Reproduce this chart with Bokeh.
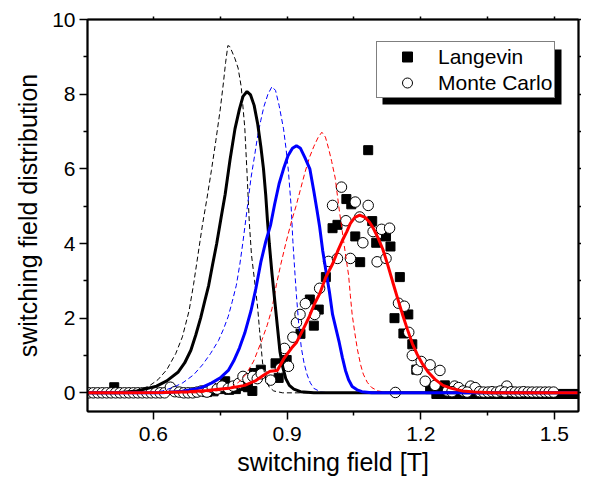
from bokeh.plotting import figure
from bokeh.models import (Range1d, FixedTicker, LinearAxis, Legend, LegendItem,
                          BoxAnnotation)
from bokeh.embed import file_html
from bokeh.resources import INLINE

# ---------------- data ----------------
# Langevin (filled squares)
lang_x = [0.512, 0.720, 0.735, 0.750, 0.761, 0.770, 0.785, 0.800, 0.812, 0.822,
          0.826, 0.841, 0.874, 0.881, 0.899, 0.930, 0.951, 0.960, 0.971, 0.987,
          1.002, 1.013, 1.033, 1.044, 1.053, 1.064, 1.082, 1.091, 1.100, 1.122,
          1.132, 1.153, 1.141, 1.161, 1.172, 1.181, 1.190, 1.221, 1.225, 1.243,
          1.254,
          1.235, 1.245, 1.255, 1.265, 1.275, 1.285, 1.295, 1.305, 1.315, 1.325,
          1.335, 1.345, 1.355, 1.365, 1.375, 1.385, 1.395, 1.405, 1.415, 1.425,
          1.435, 1.445, 1.455, 1.465, 1.475, 1.485, 1.495, 1.505, 1.515, 1.525,
          1.535, 1.545, 1.553]
lang_y = [0.15, 0.02, 0.04, 0.10, 0.31, 0.08, 0.10, 0.18, 0.15, 0.05,
          0.53, 0.62, 0.79, 0.40, 0.88, 1.58, 2.50, 1.80, 2.23, 3.10,
          4.41, 4.50, 5.19, 5.05, 4.19, 3.50, 6.50, 4.60, 4.02, 4.19,
          3.92, 3.10, 2.00, 1.59, 2.10, 1.30, 0.62, 0.10, 0.14, 0.05,
          0.20,
          -0.03, -0.03, -0.03, -0.03, -0.03, -0.03, -0.03, -0.03, -0.03, -0.03,
          -0.03, -0.03, -0.03, -0.03, -0.03, -0.03, -0.03, -0.03, -0.03, -0.03,
          -0.03, -0.03, -0.03, -0.03, -0.03, -0.03, -0.03, -0.03, -0.03, -0.03,
          -0.03, -0.03, -0.03]

# Monte Carlo (open circles)
mc_x = [0.455, 0.465, 0.475, 0.485, 0.495, 0.505, 0.515, 0.525, 0.535, 0.545,
        0.555, 0.565, 0.575, 0.585, 0.595, 0.605, 0.615, 0.625, 0.638, 0.648,
        0.658, 0.668, 0.678, 0.688, 0.698, 0.708, 0.720, 0.732, 0.743, 0.754,
        0.768, 0.779, 0.791, 0.801, 0.812, 0.823, 0.833, 0.842, 0.863, 0.885,
        0.894, 0.903, 0.913, 0.921, 0.929, 0.941, 0.962, 0.973, 0.993, 1.002,
        1.013, 1.022, 1.032, 1.042, 1.053, 1.063, 1.070, 1.082, 1.093, 1.102,
        1.112, 1.122, 1.130, 1.143, 1.150, 1.163, 1.173, 1.181, 1.192, 1.201,
        1.210, 1.221, 1.243, 1.232, 1.276, 1.285, 1.312, 1.322, 1.393,
        1.260, 1.270, 1.295, 1.304, 1.332, 1.341, 1.351, 1.360, 1.370, 1.379,
        1.389, 1.403, 1.412, 1.422, 1.431, 1.441, 1.450, 1.460, 1.469, 1.479,
        1.488, 1.498]
mc_y = [0.0, 0.0, 0.0, 0.0, 0.0, 0.0, 0.0, 0.0, 0.0, 0.0,
        0.0, 0.0, 0.0, 0.0, 0.0, 0.0, 0.0, 0.0, 0.15, 0.03,
        0.02, 0.0, 0.0, 0.0, 0.02, 0.05, 0.02, 0.14, 0.10, 0.18,
        0.12, 0.18, 0.25, 0.44, 0.38, 0.44, 0.38, 0.51, 0.34, 0.66,
        1.19, 0.71, 1.49, 1.88, 2.10, 2.39, 2.10, 2.80, 3.52, 5.02,
        3.60, 5.51, 4.61, 3.60, 5.11, 4.71, 4.02, 5.02, 4.32, 3.51,
        4.38, 3.60, 4.41, 0.01, 2.40, 2.32, 1.62, 1.00, 0.62, 0.84,
        0.31, 0.75, 0.60, 0.20, 0.18, 0.14, 0.18, 0.14, 0.18,
        0.05, 0.03, 0.05, 0.02, 0.03, 0.02, 0.02, 0.03, 0.02, 0.05,
        0.02, 0.03, 0.02, 0.02, 0.03, 0.02, 0.02, 0.02, 0.02, 0.02,
        0.02, 0.02]

# curves
bd_x = [0.452, 0.530, 0.560, 0.590, 0.610, 0.630, 0.650, 0.665, 0.680, 0.690,
        0.700, 0.710, 0.720, 0.730, 0.740, 0.750, 0.757, 0.762, 0.767, 0.771,
        0.776, 0.783, 0.790, 0.797, 0.805, 0.810, 0.815, 0.820, 0.827, 0.834,
        0.838, 0.845, 0.852, 0.860, 0.870, 0.890, 1.554]
bd_y = [0.0, 0.0, 0.05, 0.18, 0.35, 0.62, 1.05, 1.50, 2.20, 2.90,
        3.70, 4.50, 5.20, 5.95, 6.75, 7.60, 8.30, 8.85, 9.30, 9.28,
        9.15, 8.95, 8.70, 8.20, 7.10, 5.90, 4.60, 3.70, 3.00, 2.27,
        1.70, 0.80, 0.36, 0.15, 0.05, 0.0, 0.0]

bs_x = [0.452, 0.520, 0.563, 0.607, 0.630, 0.655, 0.670, 0.684, 0.695, 0.706,
        0.715, 0.724, 0.733, 0.742, 0.752, 0.761, 0.772, 0.783, 0.793, 0.801,
        0.810, 0.818, 0.826, 0.834, 0.841, 0.847, 0.852, 0.856, 0.860, 0.866,
        0.872, 0.878, 0.884, 0.890, 0.897, 0.905, 0.915, 0.930, 0.960, 1.554]
bs_y = [0.0, 0.0, 0.05, 0.18, 0.32, 0.55, 0.80, 1.14, 1.55, 2.01,
        2.45, 2.88, 3.45, 4.00, 4.70, 5.32, 6.25, 7.07, 7.60, 7.94,
        8.07, 7.98, 7.70, 7.20, 6.60, 6.00, 5.30, 4.60, 4.00, 3.20,
        2.50, 1.80, 1.10, 0.70, 0.38, 0.20, 0.10, 0.03, 0.0, 0.0]

bld_x = [0.452, 0.580, 0.620, 0.645, 0.666, 0.690, 0.710, 0.728, 0.746, 0.757,
         0.768, 0.777, 0.786, 0.794, 0.801, 0.810, 0.819, 0.827, 0.834, 0.841,
         0.848, 0.857, 0.866, 0.874, 0.882, 0.892, 0.898, 0.903, 0.909, 0.913,
         0.917, 0.921, 0.926, 0.932, 0.938, 0.945, 0.952, 0.960, 0.976, 1.000,
         1.554]
bld_y = [0.0, 0.0, 0.05, 0.15, 0.27, 0.48, 0.75, 1.05, 1.40, 1.70,
         2.05, 2.45, 2.88, 3.45, 4.05, 4.90, 5.76, 6.35, 6.89, 7.30,
         7.67, 8.00, 8.20, 8.10, 7.70, 7.07, 6.50, 5.93, 5.00, 4.05,
         3.30, 2.60, 1.85, 1.20, 0.80, 0.48, 0.27, 0.12, 0.02, 0.0,
         0.0]

bls_x = [0.452, 0.620, 0.665, 0.694, 0.710, 0.730, 0.750, 0.768, 0.780, 0.793,
         0.805, 0.819, 0.830, 0.841, 0.852, 0.863, 0.872, 0.882, 0.892, 0.902,
         0.912, 0.921, 0.930, 0.940, 0.951, 0.960, 0.967, 0.973, 0.980, 0.988,
         0.995, 1.002, 1.010, 1.017, 1.024, 1.031, 1.038, 1.046, 1.057, 1.068,
         1.090, 1.554]
bls_y = [0.0, 0.0, 0.04, 0.10, 0.15, 0.26, 0.40, 0.60, 0.85, 1.20,
         1.60, 2.20, 2.80, 3.50, 4.05, 4.50, 5.05, 5.60, 6.00, 6.35,
         6.55, 6.62, 6.55, 6.30, 6.00, 5.40, 4.90, 4.45, 3.80, 3.20,
         2.70, 2.10, 1.70, 1.35, 0.95, 0.60, 0.35, 0.17, 0.08, 0.03,
         0.0, 0.0]

rd_x = [0.452, 0.700, 0.740, 0.768, 0.790, 0.808, 0.825, 0.843, 0.855, 0.866,
        0.876, 0.886, 0.898, 0.910, 0.920, 0.930, 0.940, 0.950, 0.960, 0.970,
        0.978, 0.986, 0.993, 1.000, 1.008, 1.017, 1.027, 1.033, 1.038, 1.042,
        1.046, 1.052, 1.058, 1.065, 1.071, 1.080, 1.090, 1.104, 1.130, 1.554]
rd_y = [0.0, 0.0, 0.05, 0.10, 0.27, 0.50, 0.85, 1.40, 1.80, 2.25,
        2.90, 3.45, 4.05, 4.60, 5.00, 5.45, 5.90, 6.30, 6.60, 6.85,
        6.98, 6.85, 6.55, 6.20, 5.75, 4.90, 4.05, 3.55, 3.15, 2.60,
        2.10, 1.60, 1.15, 0.75, 0.50, 0.28, 0.14, 0.05, 0.0, 0.0]

rs_x = [0.452, 0.550, 0.620, 0.680, 0.720, 0.768, 0.805, 0.830, 0.848, 0.862,
        0.878, 0.892, 0.910, 0.921, 0.936, 0.950, 0.962, 0.973, 0.987, 1.002,
        1.013, 1.024, 1.034, 1.042, 1.052, 1.063, 1.075, 1.085, 1.093, 1.104,
        1.115, 1.126, 1.137, 1.148, 1.159, 1.170, 1.181, 1.192, 1.203, 1.217,
        1.232, 1.250, 1.269, 1.294, 1.320, 1.360, 1.554]
rs_y = [0.0, 0.0, 0.01, 0.03, 0.06, 0.12, 0.20, 0.33, 0.48, 0.58,
        0.60, 0.90, 1.20, 1.35, 1.70, 2.05, 2.40, 2.65, 3.10, 3.45,
        3.78, 4.08, 4.32, 4.54, 4.70, 4.76, 4.70, 4.57, 4.42, 4.15,
        3.84, 3.42, 2.97, 2.53, 2.10, 1.70, 1.32, 1.03, 0.79, 0.55,
        0.36, 0.20, 0.12, 0.05, 0.02, 0.0, 0.0]

x_ticks = [0.6, 0.9, 1.2, 1.5]
x_minor = [0.45, 0.75, 1.05, 1.35]
y_ticks = [0, 2, 4, 6, 8, 10]
y_minor = [1, 3, 5, 7, 9]

FONT = "Liberation Sans"

p = figure(width=581, height=482, output_backend="svg", toolbar_location=None,
           x_range=Range1d(0.452, 1.554), y_range=Range1d(-0.5, 10),
           x_axis_location=None, y_axis_location=None,
           min_border_left=87, min_border_right=2, min_border_top=19,
           min_border_bottom=71)
p.grid.visible = False
p.outline_line_color = "black"
p.outline_line_width = 1.5
p.background_fill_color = "white"
p.border_fill_color = "white"


def style_axis(ax, tick_out, minor_out):
    ax.axis_line_width = 2
    ax.axis_line_color = "black"
    ax.major_tick_line_width = 1.5
    ax.minor_tick_line_width = 1.5
    ax.major_tick_in = 0
    ax.minor_tick_in = 0
    ax.major_tick_out = tick_out
    ax.minor_tick_out = minor_out
    ax.major_label_text_font = FONT
    ax.major_label_text_font_size = "21px"
    ax.major_label_text_color = "black"
    ax.axis_label_text_font = FONT
    ax.axis_label_text_font_size = "25px"
    ax.axis_label_text_font_style = "normal"
    ax.axis_label_text_color = "black"


xb = LinearAxis(ticker=FixedTicker(ticks=x_ticks, minor_ticks=x_minor),
                axis_label="switching field [T]")
style_axis(xb, 8, 4)
xb.major_label_standoff = 7
xb.axis_label_standoff = 4
p.add_layout(xb, "below")

yl = LinearAxis(ticker=FixedTicker(ticks=y_ticks, minor_ticks=y_minor),
                axis_label="switching field distribution")
style_axis(yl, 8, 4)
yl.major_label_standoff = 4
yl.axis_label_standoff = 7
p.add_layout(yl, "left")

# mirrored axes: ticks only, no labels (all ticks as minor ticks)
xa = LinearAxis(ticker=FixedTicker(ticks=[], minor_ticks=x_ticks + x_minor))
style_axis(xa, 3, 3)
p.add_layout(xa, "above")

yr = LinearAxis(ticker=FixedTicker(ticks=[], minor_ticks=y_ticks + y_minor))
style_axis(yr, 3, 3)
p.add_layout(yr, "right")

# markers
r_lang = p.scatter(lang_x, lang_y, marker="square", size=9,
                   fill_color="black", line_color="black")
r_mc = p.scatter(mc_x, mc_y, marker="circle", size=10.5,
                 fill_color="white", line_color="black", line_width=1)

# curves
DASH = "5 3"
p.line(bd_x, bd_y, line_color="black", line_width=1, line_dash=DASH)
p.line(bld_x, bld_y, line_color="#0000FF", line_width=1, line_dash=DASH)
p.line(rd_x, rd_y, line_color="#FF0000", line_width=1, line_dash=DASH)
p.line(bs_x, bs_y, line_color="black", line_width=3)
p.line(bls_x, bls_y, line_color="#0000FF", line_width=3)
p.line(rs_x, rs_y, line_color="#FF0000", line_width=3)

# legend with drop shadow (screen units, from frame bottom-left)
LX, LY = 289, 313
shadow = BoxAnnotation(left=LX + 6, right=LX + 185, bottom=LY - 6, top=LY + 49,
                       left_units="screen", right_units="screen",
                       bottom_units="screen", top_units="screen",
                       fill_color="black", fill_alpha=1.0, line_color=None)
p.add_layout(shadow)

legend = Legend(items=[LegendItem(label="Langevin", renderers=[r_lang]),
                       LegendItem(label="Monte Carlo", renderers=[r_mc])],
                location=(LX, LY))
legend.label_text_font = FONT
legend.label_text_font_size = "21px"
legend.label_text_color = "black"
legend.glyph_width = 56
legend.glyph_height = 25
legend.label_height = 20
legend.label_standoff = 3
legend.spacing = 1
legend.padding = 2
legend.margin = 0
legend.border_line_color = "black"
legend.border_line_width = 1
legend.background_fill_color = "white"
legend.background_fill_alpha = 1.0
p.add_layout(legend)

open("out.html", "w").write(file_html(p, INLINE))
